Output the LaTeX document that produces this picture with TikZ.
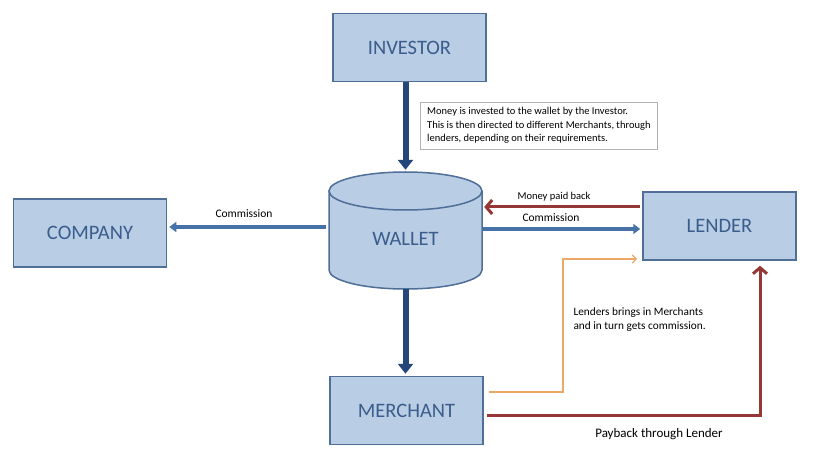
\documentclass[tikz,border=0pt]{standalone}
\usepackage{fontspec}
\setmainfont{Carlito}
\usepackage{tikz}
\usetikzlibrary{arrows.meta}

\definecolor{boxfill}{HTML}{B9CDE5}
\definecolor{boxline}{HTML}{4F6E98}
\definecolor{boxtext}{HTML}{3B5D8C}
\definecolor{darkblue}{HTML}{24467A}
\definecolor{midblue}{HTML}{4672A8}
\definecolor{darkred}{HTML}{953735}
\definecolor{tan}{HTML}{EDA866}

\tikzset{
  box/.style={draw=boxline, fill=boxfill, line width=1.5pt, minimum width=153pt,
    minimum height=68pt, font=\fontsize{20.5}{22}\selectfont, text=boxtext},
  label/.style={font=\fontsize{11.5}{13}\selectfont, text=black},
  downflow/.style={darkblue, line width=6pt, -{Triangle[length=10pt,width=15pt]}},
  commflow/.style={midblue, line width=3.5pt, -{Triangle[length=7pt,width=10pt]}},
  backflow/.style={darkred, line width=3pt, -{Straight Barb[length=6pt,width=14pt,line width=3pt]}},
  thinflow/.style={tan, line width=1.2pt, -{Straight Barb[length=4pt,width=8pt]}}
}

\begin{document}
\begin{tikzpicture}[x=1pt, y=-1pt]

	% Page frame
	\useasboundingbox (0,0) rectangle (814,457);
	
	% Boxes
	\node[box] (investor) at (409.5,47.5) {INVESTOR};
	\node[box] (company)  at (90,233)     {COMPANY};
	\node[box] (lender)   at (719.5,226)  {LENDER};
	\node[box] (merchant) at (406.5,410.5) {MERCHANT};
	
	% Wallet (cylinder drawn by hand round an empty node)
	\node[minimum width=153pt, minimum height=117pt] (wallet) at (405.5,230.5) {};
	\coordinate (wtop) at (405.5,191);
	\fill[boxfill] (329,191) -- (329,270) arc[start angle=180, end angle=0, x radius=76.5, y radius=19] -- (482,191) -- cycle;
	\draw[boxline, line width=1.5pt] (329,191) -- (329,270) arc[start angle=180, end angle=0, x radius=76.5, y radius=19] -- (482,191);
	\draw[boxline, line width=1.5pt, fill=boxfill] (wtop) ellipse[x radius=76.5, y radius=19];
	\node[font=\fontsize{20.5}{22}\selectfont, text=boxtext] (wname) at (405.5,239) {WALLET};
	
	% Note box
	\node[draw=black!30, line width=0.6pt, minimum width=237pt, minimum height=47pt] (note) at (538.5,125.5) {};
	\node[align=left, anchor=west, font=\fontsize{10.5}{13.5}\selectfont, inner sep=0pt] (notetext) at (427,125.5)
	  {Money is invested to the wallet by the Investor.\\
	   This is then directed to different Merchants, through\\
	   lenders, depending on their requirements.};
	
	% Main flows
	\draw[downflow, shorten >=2pt] (investor.south -| wallet) -- (wallet.north);
	\draw[downflow, shorten >=2pt] (wallet.south) -- (merchant.north -| wallet);
	\draw[commflow, shorten <=3pt, shorten >=2pt] ([yshift=3.5pt]wallet.west) -- ([yshift=3.5pt]wallet.west -| company.east);
	\draw[commflow, shorten >=2pt] ([yshift=1.5pt]wallet.east) -- ([yshift=1.5pt]wallet.east -| lender.west);
	\draw[backflow, shorten <=2pt, shorten >=2pt] ([yshift=19pt]lender.west) -- ([yshift=19pt]lender.west -| wallet.east);
	
	% Merchant to lender
	\coordinate (oturn) at (563,259);
	\coordinate (otip)  at (637,259);
	\draw[thinflow, shorten <=5pt] ([yshift=18.5pt]merchant.east) -| (oturn) -- (otip);
	\draw[backflow, shorten <=3pt, shorten >=5pt] ([yshift=-4.5pt]merchant.east) -| ([xshift=40.5pt]lender.south);
	
	% Labels
	\node[label] (lcomm)  at (244,214) {Commission};
	\node[label, font=\fontsize{10.5}{12}\selectfont] (lpaid)  at (554,197) {Money paid back};
	\node[label] (rcomm)  at (551,218) {Commission};
	\node[label, align=left, anchor=west, font=\fontsize{11.3}{14}\selectfont] (lbring) at (570,320)
	  {Lenders brings in Merchants\\and in turn gets commission.};
	\node[label, font=\fontsize{13}{15}\selectfont] (lpay) at (659,434) {Payback through Lender};

\end{tikzpicture}
\end{document}
